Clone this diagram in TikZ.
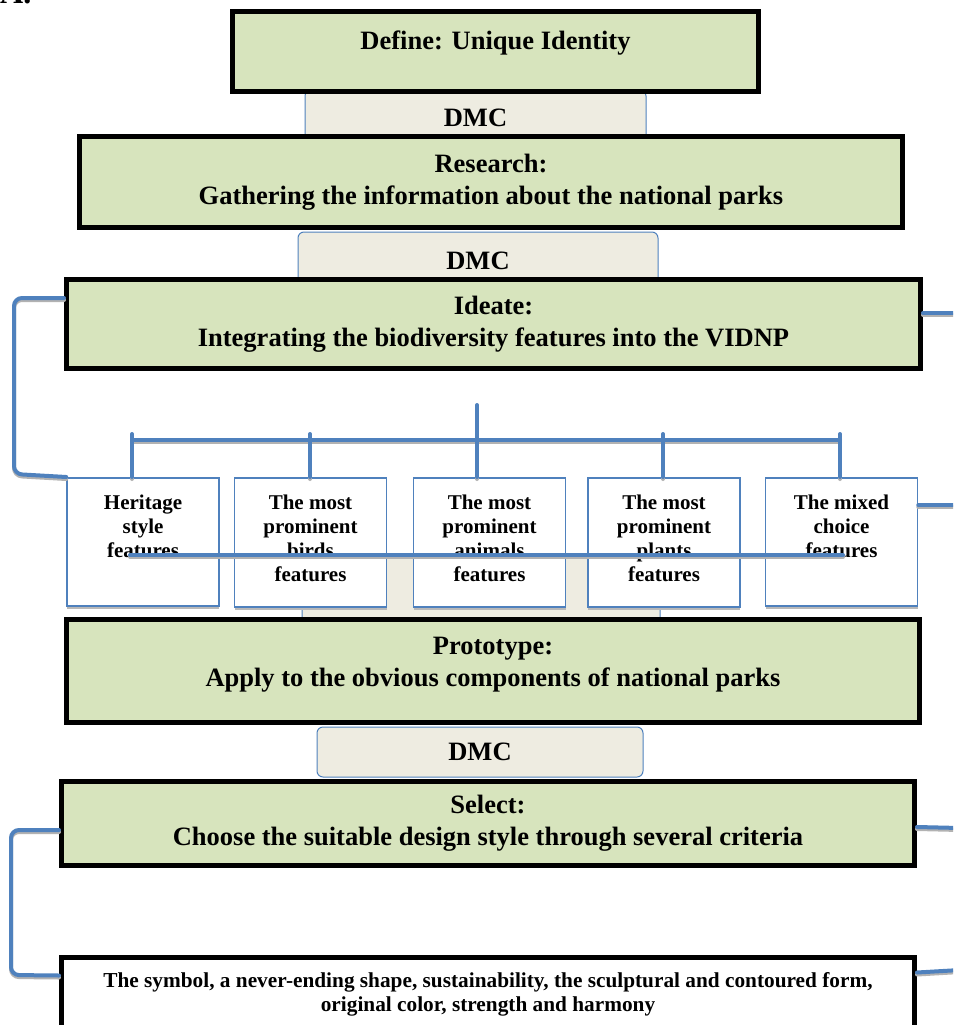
\documentclass[tikz,border=0pt]{standalone}
\usepackage{fontspec}
\setmainfont{Liberation Serif}
\usetikzlibrary{calc,shadows}

\definecolor{stageGreen}{HTML}{D7E4BD}
\definecolor{dmcTan}{HTML}{EEECE1}
\definecolor{linkBlue}{HTML}{4F81BD}

\tikzset{
  stage/.style={draw=black, line width=5pt, fill=stageGreen, align=center, inner sep=0pt,
    font=\fontsize{26.5}{32}\selectfont\bfseries},
  dmc/.style={draw=linkBlue, line width=1pt, fill=dmcTan, rounded corners=6pt, inner sep=0pt,
    font=\fontsize{26.5}{32}\selectfont\bfseries},
  feat/.style={draw=linkBlue, line width=1.5pt, fill=white, anchor=north, align=center,
    inner xsep=2pt, inner ysep=17.5pt, minimum width=152pt,
    font=\fontsize{21}{24}\selectfont\bfseries,
    drop shadow={shadow xshift=0pt, shadow yshift=-3pt, fill=gray!55, opacity=1}},
  feat3/.style={feat, text depth=30.5pt},
  feat4/.style={feat, text depth=7.5pt},
  link/.style={draw=linkBlue, line width=4pt,
    preaction={draw=gray!60, line width=4pt, transform canvas={yshift=-2pt}}},
  bracket/.style={link, rounded corners=8pt}
}

\begin{document}
\begin{tikzpicture}[line cap=round,x=1pt,y=-1pt]
\useasboundingbox (0,0) rectangle (953,1025);
\clip (0,0) rectangle (953,1025);
\node[anchor=base west, inner sep=0pt, font=\fontsize{32}{34}\selectfont\bfseries] (partLabel) at (0,4) {A.};

\node[dmc, minimum width=341pt, minimum height=55pt] (dmcA) at (475.5,117.5) {DMC};
\node[dmc, minimum width=360pt, minimum height=58pt] (dmcB) at (478,261) {DMC};
\node[dmc, minimum width=358pt, minimum height=70pt] (dmcC) at (481,590) {};
\node[dmc, minimum width=326pt, minimum height=50pt] (dmcD) at (480,752) {DMC};

\node[stage, minimum width=526pt, minimum height=80pt, text depth=23pt] (define) at (495.5,51.5) {Define: Unique Identity};
\node[stage, minimum width=823pt, minimum height=91pt] (research) at (491,182) {Research:\\Gathering the information about the national parks};
\node[stage, minimum width=854pt, minimum height=89pt] (ideate) at (493.5,324) {Ideate:\\Integrating the biodiversity features into the VIDNP};
\node[stage, minimum width=853pt, minimum height=103pt, text depth=17.5pt] (prototype) at (493,671) {Prototype:\\Apply to the obvious components of national parks};
\node[stage, minimum width=853pt, minimum height=84pt] (select) at (488,823.5) {Select:\\Choose the suitable design style through several criteria};
\node[stage, fill=white, anchor=north, minimum width=853pt, inner ysep=15pt, text depth=100pt,
  font=\fontsize{21.3}{24}\selectfont\bfseries] (criteria) at (488,954.5)
  {The symbol, a never-ending shape, sustainability, the sculptural and contoured form,\\original color, strength and harmony};

\node[feat3] (fHeritage) at (143,477) {Heritage\\style\\features};
\node[feat4] (fBirds) at (310.5,477) {The most\\prominent\\birds\\features};
\node[feat4] (fAnimals) at (489.5,477) {The most\\prominent\\animals\\features};
\node[feat4] (fPlants) at (664,477) {The most\\prominent\\plants\\features};
\node[feat3] (fMixed) at (841.5,477) {The mixed\\choice\\features};

\coordinate (treeTop) at (477,405);
\coordinate (ideateOut) at (960,313);
\coordinate (mixedOut) at (960,505);
\coordinate (selectOut) at (960,828);
\coordinate (criteriaOut) at (960,970);

\draw[link] (132,440) -- (840,440);
\draw[link] (treeTop) -- (treeTop |- fAnimals.north);
\foreach \tx/\tb in {132/fHeritage,310/fBirds,663/fPlants,840/fMixed}
  \draw[link] (\tx,434) -- (\tx,434 |- \tb.north);
\draw[link] (130,555) -- (843,555);

\draw[bracket] ([yshift=-21pt]ideate.north west) -| (14,474) -- (fHeritage.north west);
\draw[link] ([yshift=-36pt]ideate.north east) -- (ideateOut);
\draw[link] ([yshift=-28pt]fMixed.north east) -- (mixedOut);
\draw[bracket] ([yshift=-51pt]select.north west) -| (11,975) -- ([yshift=-21pt]criteria.north west);
\draw[link] ([yshift=-48pt]select.north east) -- (selectOut);
\draw[link] ([yshift=-18pt]criteria.north east) -- (criteriaOut);
\end{tikzpicture}
\end{document}
